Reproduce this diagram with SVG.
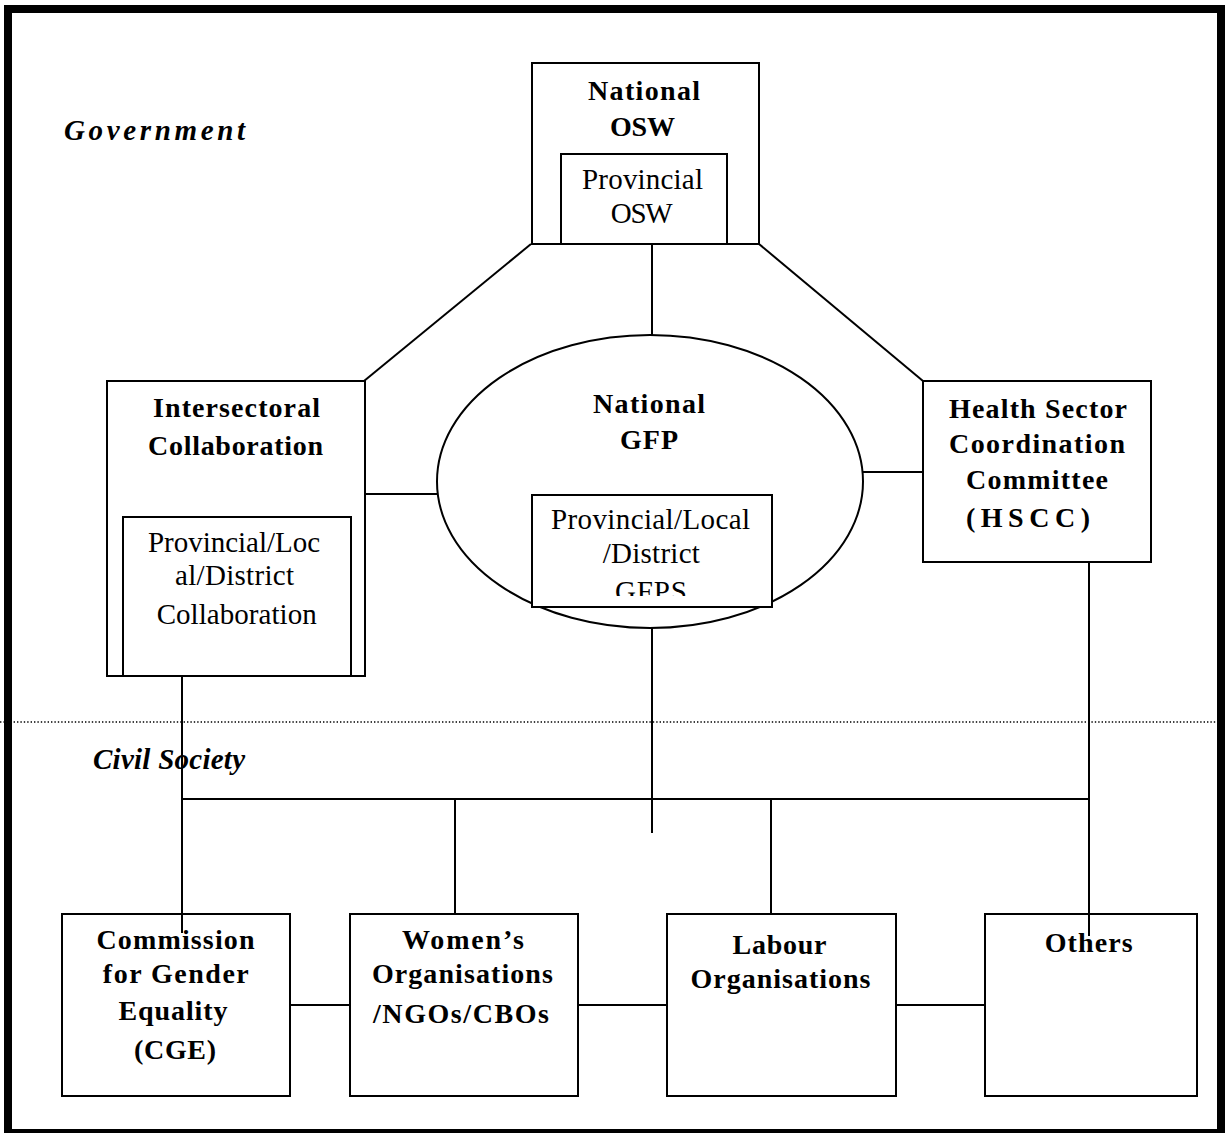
<svg xmlns="http://www.w3.org/2000/svg" width="1225" height="1133" viewBox="0 0 1225 1133">
<style>
.box{fill:#fff;stroke:#000;stroke-width:2}
.ln{fill:none;stroke:#000;stroke-width:2}
.b{font-family:"Liberation Serif","Times New Roman",serif;font-weight:bold;font-size:28px;text-anchor:middle;fill:#000}
.r{font-family:"Liberation Serif","Times New Roman",serif;font-size:29px;text-anchor:middle;fill:#000}
.i{font-family:"Liberation Serif","Times New Roman",serif;font-weight:bold;font-style:italic;font-size:29px;text-anchor:middle;fill:#000}
</style>
<defs>
<clipPath id="gfpsClip"><rect x="532" y="495" width="240" height="101"/></clipPath>
</defs>
<rect x="0" y="0" width="1225" height="1133" fill="#fff"/>
<rect x="8" y="9" width="1213" height="1124" fill="none" stroke="#000" stroke-width="8"/>
<line x1="0" y1="722" x2="1217" y2="722" stroke="#000" stroke-width="1.4" stroke-dasharray="1.4 2"/>
<text class="i" x="154.5" y="140" textLength="181">Government</text>
<text class="i" x="169" y="769" textLength="152">Civil Society</text>

<g id="national-osw">
<rect class="box" x="532" y="63" width="227" height="181"/>
<text class="b" x="644" y="100" textLength="112">National</text>
<text class="b" x="642.5" y="136" textLength="65">OSW</text>
</g>
<g id="provincial-osw">
<rect class="box" x="561" y="154" width="166" height="90"/>
<text class="r" x="642.5" y="189" textLength="121">Provincial</text>
<text class="r" x="641.7" y="223" textLength="62">OSW</text>
</g>

<g id="intersectoral">
<rect class="box" x="107" y="381" width="258" height="295"/>
<text class="b" x="236.5" y="417" textLength="167">Intersectoral</text>
<text class="b" x="235.5" y="455" textLength="175">Collaboration</text>
</g>
<g id="local-collaboration">
<rect class="box" x="123" y="517" width="228" height="159"/>
<text class="r" x="234" y="552" textLength="172">Provincial/Loc</text>
<text class="r" x="234.5" y="585" textLength="119">al/District</text>
<text class="r" x="236.7" y="624" textLength="160">Collaboration</text>
</g>

<g id="national-gfp">
<ellipse class="box" cx="650" cy="481.5" rx="213" ry="146.5"/>
<text class="b" x="649" y="413" textLength="112">National</text>
<text class="b" x="649" y="449" textLength="58">GFP</text>
</g>
<g id="local-gfps">
<rect class="box" x="532" y="495" width="240" height="112"/>
<text class="r" x="650.5" y="529" textLength="199">Provincial/Local</text>
<text class="r" x="651.3" y="563" textLength="97">/District</text>
<text class="r" x="651" y="601" textLength="72" clip-path="url(#gfpsClip)">GFPS</text>
</g>

<g id="hscc">
<rect class="box" x="923" y="381" width="228" height="181"/>
<text class="b" x="1038" y="418" textLength="178">Health Sector</text>
<text class="b" x="1037" y="453" textLength="176">Coordination</text>
<text class="b" x="1037" y="489" textLength="142">Committee</text>
<text class="b" x="1028" y="527" textLength="124">(HSCC)</text>
</g>

<g id="cge">
<rect class="box" x="62" y="914" width="228" height="182"/>
<text class="b" x="175.5" y="949" textLength="158">Commission</text>
<text class="b" x="175.8" y="983" textLength="146">for Gender</text>
<text class="b" x="173" y="1020" textLength="109">Equality</text>
<text class="b" x="175" y="1059" textLength="82">(CGE)</text>
</g>
<g id="womens">
<rect class="box" x="350" y="914" width="228" height="182"/>
<text class="b" x="463" y="949" textLength="122">Women’s</text>
<text class="b" x="462.4" y="983" textLength="181">Organisations</text>
<text class="b" x="461" y="1023" textLength="176">/NGOs/CBOs</text>
</g>
<g id="labour">
<rect class="box" x="667" y="914" width="229" height="182"/>
<text class="b" x="779.5" y="954" textLength="94">Labour</text>
<text class="b" x="780.5" y="988" textLength="180">Organisations</text>
</g>
<g id="others">
<rect class="box" x="985" y="914" width="212" height="182"/>
<text class="b" x="1088.7" y="952" textLength="88">Others</text>
</g>

<g id="connectors">
<line class="ln" x1="531" y1="244" x2="364" y2="381"/>
<line class="ln" x1="759" y1="244" x2="923" y2="381"/>
<line class="ln" x1="652" y1="244" x2="652" y2="335"/>
<line class="ln" x1="365" y1="494" x2="438" y2="494"/>
<line class="ln" x1="862" y1="472" x2="923" y2="472"/>
<line class="ln" x1="182" y1="676" x2="182" y2="933"/>
<line class="ln" x1="1089" y1="562" x2="1089" y2="936"/>
<line class="ln" x1="652" y1="628" x2="652" y2="833"/>
<line class="ln" x1="182" y1="799" x2="1089" y2="799"/>
<line class="ln" x1="455" y1="799" x2="455" y2="914"/>
<line class="ln" x1="771" y1="799" x2="771" y2="914"/>
<line class="ln" x1="290" y1="1005" x2="350" y2="1005"/>
<line class="ln" x1="578" y1="1005" x2="667" y2="1005"/>
<line class="ln" x1="896" y1="1005" x2="985" y2="1005"/>
</g>
</svg>
